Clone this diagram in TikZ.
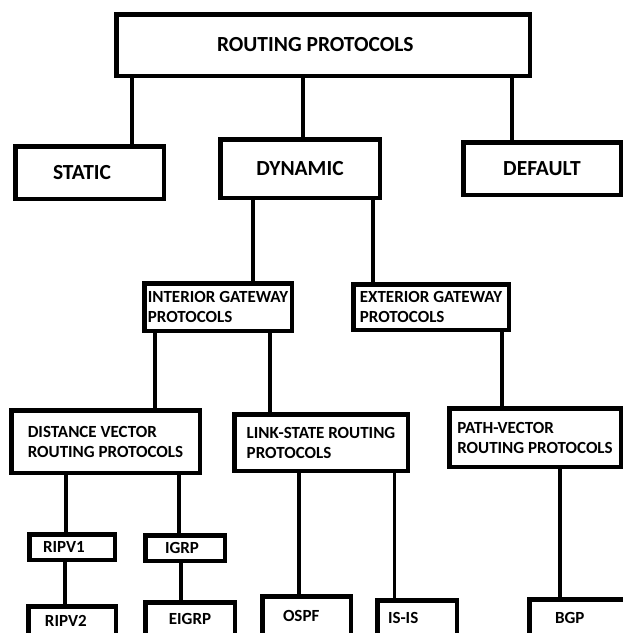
\documentclass[tikz,border=0pt]{standalone}
\usepackage{fontspec}
\setmainfont{Carlito}
\begin{document}
\begin{tikzpicture}[x=1pt, y=-1pt,
  box/.style={shape=rectangle, draw, line width=4.5pt, inner sep=0pt, font=\bfseries\fontsize{21.5}{25}\selectfont},
  midbox/.style={box, align=flush left, font=\bfseries\fontsize{17}{20}\selectfont},
  leaf/.style={box, font=\bfseries\fontsize{17}{20}\selectfont},
  link/.style={line width=4.5pt}]
\useasboundingbox (0, 0) rectangle (623, 633);
\clip (0, 0) rectangle (623, 633);
\node at (323, 45) [box, align=flush left, text width=212pt, minimum width=413.5pt, minimum height=61.5pt] (root) {ROUTING PROTOCOLS};
\node at (89.5, 172.5) [box, align=flush left, text width=73pt, minimum width=148.5pt, minimum height=52.5pt] (static) {STATIC};
\node at (300, 168.5) [box, minimum width=159.5pt, minimum height=58.5pt] (dynamic) {DYNAMIC};
\node at (542, 168.5) [box, minimum width=157.5pt, minimum height=52.5pt] (default) {DEFAULT};
\node at (218, 307) [midbox, minimum width=147.5pt, minimum height=47.5pt] (igp) {INTERIOR GATEWAY\\PROTOCOLS};
\node at (431, 307) [midbox, minimum width=155.5pt, minimum height=45.5pt] (egp) {EXTERIOR GATEWAY\\PROTOCOLS};
\node at (105.5, 441.5) [midbox, minimum width=188.5pt, minimum height=62.5pt] (dv) {DISTANCE VECTOR\\ROUTING PROTOCOLS};
\node at (321, 442.5) [midbox, minimum width=173.5pt, minimum height=56.5pt] (ls) {LINK-STATE ROUTING\\PROTOCOLS};
\node at (535, 437.5) [midbox, minimum width=171.5pt, minimum height=58.5pt] (pv) {PATH-VECTOR\\ROUTING PROTOCOLS};
\node at (72, 547) [leaf, align=flush left, text width=58pt, minimum width=85.5pt, minimum height=25.5pt] (ripv1) {RIPV1};
\node at (185, 548) [leaf, align=flush left, text width=40pt, minimum width=79.5pt, minimum height=25.5pt] (igrp) {IGRP};
\node at (72, 621) [leaf, align=flush left, text width=54pt, minimum width=87.5pt, minimum height=29.5pt] (ripv2) {RIPV2};
\node at (190, 619) [leaf, minimum width=89.5pt, minimum height=33.5pt] (eigrp) {EIGRP};
\node at (306.5, 616) [leaf, align=flush left, text width=47pt, minimum width=88.5pt, minimum height=39.5pt] (ospf) {OSPF};
\node at (417, 618) [leaf, align=flush left, text width=58pt, minimum width=79.5pt, minimum height=35.5pt] (isis) {IS-IS};
\node at (593.5, 617.5) [leaf, align=flush left, text width=77pt, minimum width=128.5pt, minimum height=36.5pt] (bgp) {BGP};
\draw [link] (root.south -| 132, 0) to (static.north -| 132, 0);
\draw [link] (root.south -| 303, 0) to (dynamic.north -| 303, 0);
\draw [link] (root.south -| 512, 0) to (default.north -| 512, 0);
\draw [link] (dynamic.south -| 253, 0) to (igp.north -| 253, 0);
\draw [link] (dynamic.south -| 373, 0) to (egp.north -| 373, 0);
\draw [link] (igp.south -| 155, 0) to (dv.north -| 155, 0);
\draw [link] (igp.south -| 270, 0) to (ls.north -| 270, 0);
\draw [link] (egp.south -| 502, 0) to (pv.north -| 502, 0);
\draw [link] (dv.south -| 66, 0) to (ripv1.north -| 66, 0);
\draw [link] (dv.south -| 179, 0) to (igrp.north -| 179, 0);
\draw [link] (ripv1.south -| 65, 0) to (ripv2.north -| 65, 0);
\draw [link] (igrp.south -| 181, 0) to (eigrp.north -| 181, 0);
\draw [link] (ls.south -| 299, 0) to (ospf.north -| 299, 0);
% thinner line in the original
\draw [link, line width=3pt] (ls.south -| 394, 0) to (isis.north -| 394, 0);
\draw [link] (pv.south -| 560, 0) to (bgp.north -| 560, 0);
\end{tikzpicture}
\end{document}
